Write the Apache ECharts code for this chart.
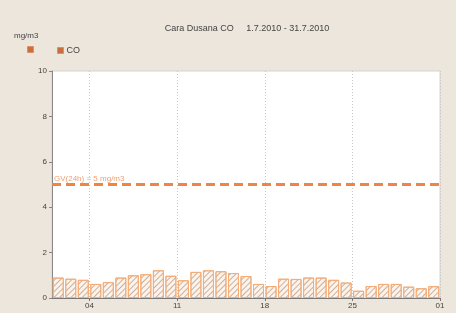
<!DOCTYPE html>
<html>
<head>
<meta charset="utf-8">
<script src="https://cdn.jsdelivr.net/npm/echarts@6/dist/echarts.min.js"></script>
<style>
  html, body { margin: 0; padding: 0; background: #ece6dc; }
  #chart { width: 456px; height: 313px; }
</style>
</head>
<body>
<div id="chart"></div>
<script>
// daily CO values, 1.7.2010 - 31.7.2010 (mg/m3)
const days = [1,2,3,4,5,6,7,8,9,10,11,12,13,14,15,16,17,18,19,20,21,22,23,24,25,26,27,28,29,30,31];
const coValues = [0.90,0.85,0.80,0.62,0.70,0.90,1.00,1.05,1.22,0.98,0.78,1.15,1.22,1.18,1.10,0.97,0.62,0.53,0.85,0.84,0.90,0.90,0.80,0.68,0.32,0.53,0.62,0.62,0.50,0.43,0.52];
// tick positions in days since 1.7. (start of 04, 11, 18, 25, 01.8.)
const xTicks = [3, 10, 17, 24, 31];
const xTickLabels = ['04', '11', '18', '25', '01'];
const limitValue = 5;
const limitLabel = 'GV(24h) = 5 mg/m3';

const chart = echarts.init(document.getElementById('chart'));

// bars sit in the middle of each day
const barData = days.map((d, i) => [d - 0.5, coValues[i]]);

chart.setOption({
  backgroundColor: '#ece6dc',
  animation: false,
  title: {
    text: 'Cara Dusana CO     1.7.2010 - 31.7.2010',
    left: 242,
    top: 19,
    textAlign: 'center',
    textStyle: { fontSize: 9, fontWeight: 'normal', color: '#444', fontFamily: 'Liberation Sans' }
  },
  legend: {
    left: 57,
    top: 46,
    padding: 0,
    itemWidth: 6,
    itemHeight: 6,
    itemGap: 4,
    textStyle: { fontSize: 9, color: '#444', fontFamily: 'Liberation Sans', padding: [0, 0, 0, -2] },
    data: [{ name: 'CO', icon: 'rect', itemStyle: { color: '#c8703c', borderColor: '#e09060', borderWidth: 1, decal: 'none' } }]
  },
  graphic: [
    { type: 'text', left: 14, top: 32, style: { text: 'mg/m3', fontSize: 8, fill: '#444', fontFamily: 'Liberation Sans' } },
    { type: 'rect', left: 27, top: 46, shape: { width: 6, height: 6 }, style: { fill: '#c8703c', stroke: '#e09060', lineWidth: 1 } }
  ],
  grid: {
    left: 52, right: 16, top: 71, bottom: 15,
    show: true,
    backgroundColor: '#fff',
    borderColor: '#d4d4d4',
    borderWidth: 1
  },
  xAxis: {
    type: 'value',
    min: 0,
    max: 31,
    axisLine: { lineStyle: { color: '#777', width: 1 } },
    axisTick: { customValues: xTicks, length: 3, lineStyle: { color: '#777' } },
    axisLabel: {
      customValues: xTicks,
      margin: 4,
      fontSize: 8,
      color: '#444',
      fontFamily: 'Liberation Sans',
      formatter: v => xTickLabels[xTicks.indexOf(v)]
    },
    splitLine: { show: true, lineStyle: { color: '#c8c8c8', type: [1, 2], width: 1 } }
  },
  yAxis: {
    type: 'value',
    min: 0,
    max: 10,
    interval: 2,
    axisLine: { show: true, lineStyle: { color: '#888', width: 1 } },
    axisTick: { show: true, length: 3, lineStyle: { color: '#888' } },
    axisLabel: { fontSize: 8, color: '#444', margin: 5, fontFamily: 'Liberation Sans' },
    splitLine: { show: false }
  },
  series: [
    {
      name: 'CO',
      type: 'bar',
      data: barData,
      barWidth: 11,
      itemStyle: {
        color: '#fcf3ec',
        borderColor: '#f4ad78',
        borderWidth: 1,
        decal: {
          symbol: 'rect',
          symbolSize: 1,
          color: 'rgba(195,165,140,0.85)',
          dashArrayX: [1, 0],
          dashArrayY: [1, 2.5],
          rotation: -Math.PI / 4
        }
      },
      markLine: {
        silent: true,
        symbol: 'none',
        lineStyle: { color: '#f08444', type: [9, 5], width: 3 },
        label: {
          position: 'insideStartTop',
          formatter: limitLabel,
          fontSize: 8,
          color: '#f0a070',
          fontFamily: 'Liberation Sans',
          distance: [2, 2]
        },
        data: [{ yAxis: limitValue }]
      }
    }
  ]
});
</script>
</body>
</html>
